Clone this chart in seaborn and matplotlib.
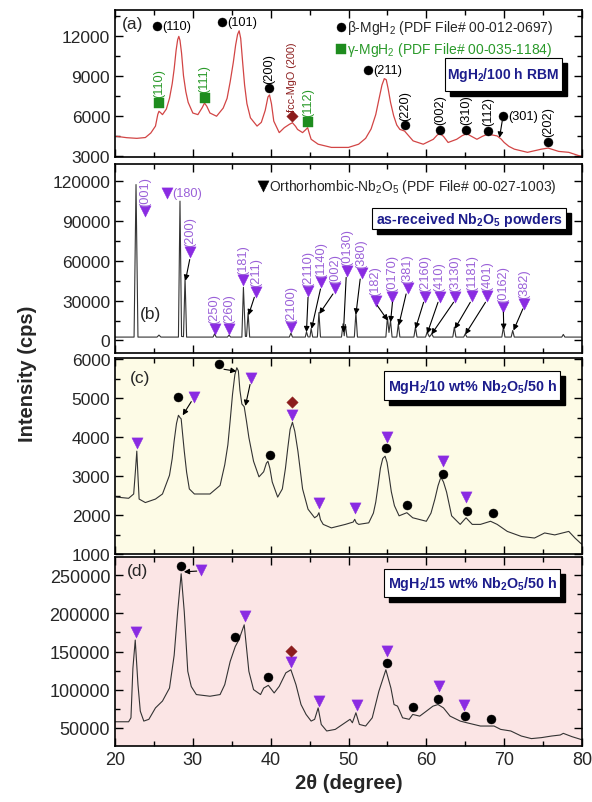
import numpy as np
import pandas as pd
import matplotlib
matplotlib.use("Agg")
import matplotlib.pyplot as plt
import seaborn as sns
from matplotlib.patches import Rectangle
from matplotlib.transforms import ScaledTranslation
from matplotlib.ticker import MultipleLocator

# ---------------- data ----------------
# (a) MgH2 / 100 h RBM
a_x = [20.2, 21.5, 22.8, 23.9, 24.6, 25.2, 25.5, 25.65, 25.9, 26.1, 26.6, 27.0, 27.35, 27.6, 27.85, 28.05,
       28.2, 28.35, 28.55, 28.8, 29.1, 29.4, 30.0, 30.65, 31.2, 31.5, 31.8, 32.2, 33.05, 33.9, 34.4, 34.8,
       35.2, 35.5, 35.75, 35.95, 36.15, 36.4, 36.65, 36.95, 37.4, 38.25, 38.8, 39.3, 39.65, 39.85, 40.1,
       40.4, 41.1, 41.75, 42.4, 42.8, 43.2, 43.45, 44.1, 44.5, 44.75, 45.0, 45.2, 46.1, 47.8, 50.0, 51.3,
       52.2, 52.9, 53.5, 53.9, 54.3, 54.6, 54.85, 55.1, 55.4, 55.8, 56.2, 56.6, 57.2, 58.3, 59.6, 60.9,
       61.4, 61.75, 62.2, 62.8, 63.9, 64.6, 65.2, 65.8, 66.5, 67.2, 67.8, 68.5, 69.1, 69.6, 70.0, 70.6,
       71.3, 73.0, 74.8, 75.65, 77.0, 78.3, 79.6, 80.0]
a_y = [4450, 4350, 4300, 4360, 4700, 5220, 6100, 6330, 6200, 6080, 6500, 7300, 8400, 9500, 10900, 11700,
       11950, 11650, 10700, 9000, 7800, 7000, 6200, 6080, 6600, 6950, 6700, 6200, 5960, 6570, 7300, 8550,
       10000, 11300, 12100, 12370, 11800, 10000, 8300, 6900, 5840, 5220, 5500, 6400, 7400, 7560, 6900,
       5590, 4730, 5100, 5350, 5470, 5200, 4970, 4730, 4950, 5100, 4600, 4230, 3860, 3620, 3620, 3860,
       4300, 5000, 6080, 7200, 8300, 8780, 8700, 8000, 7000, 6000, 5300, 4970, 4850, 4110, 3860, 4230,
       4550, 4650, 4450, 3990, 4230, 4500, 4650, 4450, 4230, 4450, 4600, 4550, 4480, 4250, 3990, 3700,
       3490, 3250, 3490, 3570, 3320, 3250, 3000, 2950]
a_beta_x = [25.4, 33.7, 39.8, 52.5, 57.3, 61.8, 65.1, 67.9, 69.8, 75.65]
a_beta_y = [12740, 13030, 8050, 9410, 5270, 4950, 4950, 4880, 5960, 4040]
a_beta_lbl = ['(110)', '(101)', '(200)', '(211)', '(220)', '(002)', '(310)', '(112)', '(301)', '(202)']
a_gamma_x = [25.65, 31.5, 44.8]
a_gamma_y = [6950, 7360, 5540]
a_gamma_lbl = ['(110)', '(111)', '(112)']
a_mgo_x = [42.8]
a_mgo_y = [5960]
a_mgo_lbl = ['fcc-MgO (200)']

# (b) as-received Nb2O5
b_x = [20.0, 22.45, 22.7, 22.95, 25.4, 25.65, 25.9, 28.15, 28.35, 28.55, 28.8, 29.0, 29.2, 32.6, 32.8, 33.0,
       34.45, 34.65, 34.85, 36.3, 36.5, 36.75, 36.9, 37.1, 37.3, 42.4, 42.6, 42.8, 44.45, 44.6, 44.8, 45.05,
       45.2, 45.4, 46.0, 46.2, 46.4, 49.1, 49.3, 49.45, 49.6, 49.8, 50.75, 50.95, 51.15, 54.8, 55.0, 55.2,
       55.4, 55.6, 56.2, 56.4, 56.6, 58.4, 58.6, 58.8, 59.9, 60.1, 60.4, 60.7, 60.9, 63.4, 63.6, 63.8, 64.8,
       65.0, 65.2, 69.7, 69.9, 70.1, 70.9, 71.1, 71.3, 77.4, 77.6, 77.8, 80.0]
b_y = [2500, 2500, 117500, 2500, 2500, 4000, 2500, 2500, 105000, 3000, 2800, 47500, 2500, 2500, 5000, 2500,
       2500, 4000, 2500, 2500, 40000, 3000, 3000, 21000, 2500, 2500, 5500, 2500, 2500, 6500, 2600, 2600,
       9000, 2500, 2500, 21000, 2500, 2500, 12500, 3500, 12000, 2500, 2500, 21000, 2500, 2500, 17500, 6000,
       15000, 2500, 2500, 12500, 2500, 2500, 10000, 2500, 2500, 6250, 2600, 5000, 2500, 2500, 10000, 2500,
       2500, 5000, 2500, 2500, 10000, 2500, 2500, 7500, 2500, 2500, 4500, 2500, 2500]
b_tri_x = [23.9, 26.65, 29.7, 32.8, 34.65, 36.5, 38.1, 42.6, 44.8, 46.5, 48.3, 49.8, 51.7, 53.5, 55.65,
           57.6, 59.8, 61.7, 63.7, 65.9, 67.8, 69.9, 72.6]
b_tri_y = [97500, 111250, 67000, 8750, 8750, 45750, 36750, 10000, 37000, 43750, 39250, 52500, 50500, 30000,
           33000, 39250, 33000, 33000, 33000, 33750, 33750, 25000, 27500]
b_tri_lbl = ['(001)', '(180)', '(200)', '(250)', '(260)', '(181)', '(211)', '(2100)', '(2110)', '(1140)',
             '(002)', '(0130)', '(380)', '(182)', '(0170)', '(381)', '(2160)', '(410)', '(3130)', '(1181)',
             '(401)', '(0162)', '(382)']
b_arrow_from = [(29.6, 61000), (37.9, 32500), (44.8, 32500), (46.4, 38750), (48.0, 35000), (49.7, 47500),
                (51.5, 46250), (53.7, 26250), (55.65, 28750), (57.4, 35000), (59.65, 28750), (61.5, 28750),
                (63.5, 28750), (65.65, 28750), (67.6, 28750), (69.9, 21250), (72.4, 23750)]
b_arrow_to = [(29.05, 45000), (37.15, 19000), (44.6, 6250), (45.25, 8750), (46.25, 20000), (49.35, 6000),
              (50.95, 19500), (55.05, 15000), (55.4, 13750), (56.45, 11250), (58.6, 8750), (60.1, 5000),
              (60.65, 4500), (63.65, 8750), (65.0, 4500), (69.95, 8000), (71.2, 7500)]

# (c) MgH2 / 10 wt% Nb2O5 / 50 h
c_x = [20.2, 21.75, 22.4, 22.65, 22.8, 22.95, 23.1, 23.9, 25.2, 26.1, 27.0, 27.35, 27.6, 27.9, 28.15, 28.35,
       28.5, 28.7, 28.9, 29.2, 29.55, 30.2, 32.2, 33.5, 34.1, 34.5, 34.8, 35.1, 35.4, 35.65, 35.85, 36.05,
       36.3, 36.6, 36.9, 37.2, 37.8, 38.5, 39.1, 39.45, 39.65, 39.9, 40.2, 40.9, 41.5, 41.9, 42.2, 42.5,
       42.8, 43.1, 43.5, 44.1, 44.8, 45.65, 46.0, 46.2, 46.4, 46.75, 47.8, 49.6, 50.6, 50.8, 51.0, 51.3,
       52.6, 53.2, 53.5, 53.8, 54.1, 54.4, 54.7, 54.95, 55.2, 55.5, 55.9, 56.5, 57.5, 58.25, 60.0, 60.6,
       61.1, 61.5, 61.8, 61.95, 62.2, 62.6, 63.25, 64.35, 65.1, 65.9, 66.95, 68.25, 69.1, 70.4, 72.2,
       73.9, 75.2, 76.5, 78.3, 79.1, 79.8, 80.0]
c_y = [2460, 2430, 2540, 3200, 3640, 3000, 2410, 2320, 2410, 2540, 3020, 3450, 3900, 4350, 4560, 4500,
       4470, 4050, 3640, 3100, 2670, 2540, 2540, 2760, 3290, 3800, 4430, 5100, 5600, 5780, 5700, 5200,
       4850, 4780, 4400, 3990, 3380, 2980, 3110, 3330, 3380, 3200, 2850, 2460, 2670, 3200, 3720, 4200,
       4380, 4150, 3640, 2670, 2150, 1930, 1980, 2060, 1880, 1760, 1670, 1760, 1820, 1890, 1800, 1760,
       1800, 2050, 2330, 2750, 3200, 3450, 3510, 3350, 3020, 2600, 2240, 1980, 2060, 1930, 1840, 2050,
       2410, 2750, 2930, 2940, 2850, 2590, 1980, 1760, 1930, 1760, 1760, 1840, 1760, 1580, 1450,
       1410, 1540, 1490, 1580, 1410, 1280, 1250]
c_tri_x = [22.8, 30.1, 37.5, 42.8, 46.2, 50.8, 54.9, 62.1, 65.1]
c_tri_y = [3860, 5020, 5520, 4570, 2310, 2180, 4010, 3380, 2470]
c_circ_x = [28.15, 33.35, 39.9, 54.8, 57.5, 62.1, 65.2, 68.55]
c_circ_y = [5020, 5870, 3550, 3730, 2260, 3060, 2110, 2050]
c_dia_x = [42.8]
c_dia_y = [4890]
c_arrow_from = [(29.8, 4910), (34.0, 5740), (37.35, 5350)]
c_arrow_to = [(28.7, 4560), (35.6, 5690), (36.75, 4800)]

# (d) MgH2 / 15 wt% Nb2O5 / 50 h
d_x = [20.0, 21.75, 22.05, 22.3, 22.6, 22.95, 23.25, 23.7, 24.35, 25.2, 26.1, 27.0, 27.6, 28.05, 28.5,
       28.9, 29.35, 29.8, 30.45, 32.2, 33.5, 34.1, 34.8, 35.45, 35.9, 36.6, 37.2, 37.8, 38.7, 39.1, 39.7,
       40.45, 41.1, 41.95, 42.6, 43.25, 43.9, 44.55, 45.2, 45.65, 46.1, 46.5, 47.2, 48.3, 49.55, 50.2,
       50.5, 50.95, 51.4, 52.2, 53.05, 53.9, 54.8, 55.45, 55.85, 56.3, 56.95, 57.8, 58.25, 59.15, 60.0,
       60.85, 61.5, 62.2, 63.05, 64.35, 65.2, 66.95, 68.7, 69.55, 70.85, 72.2, 73.5, 74.8, 76.1, 77.2,
       77.6, 78.7, 79.8, 80.0]
d_y = [57800, 57800, 63000, 128000, 165000, 106500, 71700, 58700, 61000, 76000, 85000, 102000, 145000,
       202000, 252000, 202000, 124000, 104000, 93500, 91300, 93500, 106500, 137000, 156500, 165000, 185000,
       124000, 100000, 93500, 102000, 105600, 95600, 104300, 122000, 126000, 106500, 80400, 67400, 58700,
       61000, 76000, 54300, 45700, 47800, 56500, 61000, 56500, 69600, 54300, 52200, 63000, 97800, 126000,
       102000, 80400, 78300, 63000, 61000, 67400, 65200, 71700, 78300, 80400, 76000, 65200, 58700, 56500,
       52200, 52200, 47800, 45700, 39100, 35700, 37000, 39100, 40400, 42600, 38300, 34800, 34000]
d_tri_x = [22.7, 31.1, 36.75, 42.6, 46.2, 51.1, 55.0, 61.6, 64.9]
d_tri_y = [176000, 256500, 196500, 135700, 85700, 80400, 151000, 104300, 80400]
d_circ_x = [28.5, 35.45, 39.65, 54.9, 58.25, 61.5, 65.0, 68.25]
d_circ_y = [262000, 169500, 116500, 135200, 77400, 88300, 65700, 61000]
d_dia_x = [42.6]
d_dia_y = [151000]
d_arrow_from = [(30.5, 255500)]
d_arrow_to = [(28.85, 254500)]

# ---------------- style ----------------
sns.set_theme(style="ticks")
plt.rcParams['font.family'] = ['Liberation Sans', 'DejaVu Sans']
plt.rcParams['mathtext.fontset'] = 'custom'
plt.rcParams['mathtext.rm'] = 'Liberation Sans'
plt.rcParams['mathtext.it'] = 'Liberation Sans:italic'
plt.rcParams['mathtext.bf'] = 'Liberation Sans:bold'

PURPLE = '#8a2be2'
PURPLE_T = '#9a60d8'
GREEN = '#1e8c1e'
DRED = '#8b1c1c'
NAVY = '#1c1c8c'
LBL_FS = 9.2

fig = plt.figure(figsize=(5.92, 8.03), dpi=100)


def mk_ax(top, bot, bg):
    ax = fig.add_axes([115 / 592, 1 - bot / 803, (582 - 115) / 592, (bot - top) / 803])
    ax.set_facecolor(bg)
    return ax


ax_a = mk_ax(11, 158, 'white')
ax_b = mk_ax(165, 354, 'white')
ax_c = mk_ax(359, 555, '#fdfbe6')
ax_d = mk_ax(558, 747, '#fbe5e5')

ylims = {ax_a: (2900, 13930), ax_b: (-9500, 133000), ax_c: (1000, 6030), ax_d: (26000, 274000)}
ymaj = {ax_a: 3000, ax_b: 30000, ax_c: 1000, ax_d: 50000}

for ax in [ax_a, ax_b, ax_c, ax_d]:
    ax.set_xlim(20, 80)
    ax.set_ylim(*ylims[ax])
    ax.xaxis.set_major_locator(MultipleLocator(10))
    ax.xaxis.set_minor_locator(MultipleLocator(5))
    ax.yaxis.set_major_locator(MultipleLocator(ymaj[ax]))
    ax.yaxis.set_minor_locator(MultipleLocator(ymaj[ax] / 2))
    ax.tick_params(which='both', direction='in', top=True, right=True, labelsize=12.5, width=1.0, color='black')
    ax.tick_params(which='major', length=6)
    ax.tick_params(which='minor', length=3.5)
    for s in ax.spines.values():
        s.set_linewidth(1.2)
        s.set_color('black')
    ax.set_xlabel('')
    ax.set_ylabel('')
    if ax is not ax_d:
        ax.tick_params(labelbottom=False)

ax_a.set_yticks([3000, 6000, 9000, 12000])
ax_b.set_yticks([0, 30000, 60000, 90000, 120000])
ax_c.set_yticks([1000, 2000, 3000, 4000, 5000, 6000])
ax_d.set_yticks([50000, 100000, 150000, 200000, 250000])
ax_d.set_xticks([20, 30, 40, 50, 60, 70, 80])
ax_d.tick_params(labelsize=13)

# traces
sns.lineplot(x=a_x, y=a_y, ax=ax_a, color='#d24545', linewidth=0.9, estimator=None, sort=False)
sns.lineplot(x=b_x, y=b_y, ax=ax_b, color='#333333', linewidth=0.8, estimator=None, sort=False)
sns.lineplot(x=c_x, y=c_y, ax=ax_c, color='#333333', linewidth=0.8, estimator=None, sort=False)
sns.lineplot(x=d_x, y=d_y, ax=ax_d, color='#333333', linewidth=0.8, estimator=None, sort=False)


def pts(ax, xs, ys, marker, color, s):
    sns.scatterplot(x=xs, y=ys, ax=ax, marker=marker, color=color, s=s, edgecolor=color, linewidth=0.3,
                    legend=False, zorder=4)


def vlabels(ax, xs, ys, lbls, color, skip=(), fs=LBL_FS):
    for x, y, t in zip(xs, ys, lbls):
        if t in skip:
            continue
        ax.annotate(t, (x, y), xytext=(0, 4), textcoords='offset points', rotation=90, ha='center',
                    va='bottom', fontsize=fs, color=color, zorder=8)


def hlabel(ax, x, y, t, color):
    ax.annotate(t, (x, y), xytext=(4, 0), textcoords='offset points', ha='left', va='center',
                fontsize=LBL_FS, color=color)


def arrows(ax, frm, to):
    for f, t in zip(frm, to):
        ax.annotate('', xy=t, xytext=f,
                    arrowprops=dict(arrowstyle='-|>', color='black', lw=0.8, mutation_scale=8,
                                    shrinkA=0, shrinkB=0), zorder=5)


def shadow_box(ax, x0, x1, y0, y1, text, fs=10):
    off = ScaledTranslation(5 / 100, -5 / 100, fig.dpi_scale_trans)
    ax.add_patch(Rectangle((x0, y0), x1 - x0, y1 - y0, facecolor='black', edgecolor='black',
                           transform=ax.transData + off, zorder=5))
    ax.add_patch(Rectangle((x0, y0), x1 - x0, y1 - y0, facecolor='white', edgecolor='black', lw=0.8, zorder=6))
    ax.text((x0 + x1) / 2, (y0 + y1) / 2, text, ha='center', va='center', color=NAVY,
            fontweight='bold', fontsize=fs, zorder=7)


# ---- panel (a)
pts(ax_a, a_beta_x, a_beta_y, 'o', 'black', 42)
pts(ax_a, a_gamma_x, a_gamma_y, 's', GREEN, 42)
pts(ax_a, a_mgo_x, a_mgo_y, 'D', DRED, 34)
horiz_a = ['(110)', '(101)', '(211)', '(301)']
for x, y, t in zip(a_beta_x, a_beta_y, a_beta_lbl):
    if t in horiz_a:
        hlabel(ax_a, x, y, t, 'black')
vlabels(ax_a, a_beta_x, a_beta_y, a_beta_lbl, 'black', skip=horiz_a)
vlabels(ax_a, a_gamma_x, a_gamma_y, a_gamma_lbl, '#2a9a2a')
vlabels(ax_a, a_mgo_x, a_mgo_y, a_mgo_lbl, DRED, fs=7.8)
arrows(ax_a, [(69.75, 5600)], [(69.4, 4350)])
ax_a.text(20.9, 12950, '(a)', fontsize=12.5, ha='left', va='center')
pts(ax_a, [49.0], [12620], 'o', 'black', 42)
ax_a.text(49.8, 12620, 'β-MgH$_2$ (PDF File# 00-012-0697)', fontsize=10, va='center', ha='left')
pts(ax_a, [49.0], [11010], 's', GREEN, 42)
ax_a.text(49.8, 11010, 'γ-MgH$_2$ (PDF File# 00-035-1184)', fontsize=10, va='center', ha='left', color='#2a9a2a')
shadow_box(ax_a, 62.4, 77.4, 7850, 10350, 'MgH$_\\mathbf{2}$/100 h RBM', fs=10)

# ---- panel (b)
pts(ax_b, b_tri_x, b_tri_y, 'v', PURPLE, 65)
for x, y, t in zip(b_tri_x, b_tri_y, b_tri_lbl):
    if t == '(180)':
        hlabel(ax_b, x, y, t, PURPLE_T)
    else:
        vlabels(ax_b, [x], [y], [t], PURPLE_T)
arrows(ax_b, b_arrow_from, b_arrow_to)
ax_b.text(24.6, 20000, '(b)', fontsize=12.5, ha='center', va='center')
pts(ax_b, [39.0], [116250], 'v', 'black', 65)
ax_b.text(39.8, 116250, 'Orthorhombic-Nb$_2$O$_5$ (PDF File# 00-027-1003)', fontsize=10, va='center', ha='left')
shadow_box(ax_b, 53.0, 78.0, 83750, 100000, 'as-received Nb$_\\mathbf{2}$O$_\\mathbf{5}$ powders', fs=10.2)

# ---- panel (c)
pts(ax_c, c_tri_x, c_tri_y, 'v', PURPLE, 65)
pts(ax_c, c_circ_x, c_circ_y, 'o', 'black', 42)
pts(ax_c, c_dia_x, c_dia_y, 'D', DRED, 34)
arrows(ax_c, c_arrow_from, c_arrow_to)
ax_c.text(21.95, 5520, '(c)', fontsize=12.5, ha='left', va='center')
shadow_box(ax_c, 54.6, 77.2, 4950, 5690, 'MgH$_\\mathbf{2}$/10 wt% Nb$_\\mathbf{2}$O$_\\mathbf{5}$/50 h', fs=10.3)

# ---- panel (d)
pts(ax_d, d_tri_x, d_tri_y, 'v', PURPLE, 65)
pts(ax_d, d_circ_x, d_circ_y, 'o', 'black', 42)
pts(ax_d, d_dia_x, d_dia_y, 'D', DRED, 34)
arrows(ax_d, d_arrow_from, d_arrow_to)
ax_d.text(21.5, 256500, '(d)', fontsize=12.5, ha='left', va='center')
shadow_box(ax_d, 54.6, 77.2, 221700, 258700, 'MgH$_\\mathbf{2}$/15 wt% Nb$_\\mathbf{2}$O$_\\mathbf{5}$/50 h', fs=10.3)

ax_d.set_xlabel('2θ (degree)', fontsize=14.5, fontweight='bold', labelpad=4)
fig.text(0.046, 0.535, 'Intensity (cps)', rotation=90, fontsize=14.5, fontweight='bold', va='center', ha='center')

fig.savefig('out.png', dpi=100)
